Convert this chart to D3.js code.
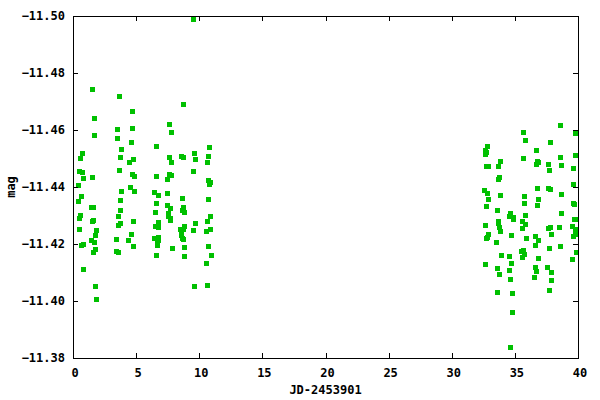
<!DOCTYPE html>
<meta charset="utf-8">
<style>
body { margin: 0; background: #fff; }
text { font-family: "DejaVu Sans Mono", monospace; font-weight: bold; font-size: 12px; fill: #000; }
</style>
<body>
<svg width="600" height="400"></svg>
<script src="https://cdn.jsdelivr.net/npm/d3@7/dist/d3.min.js"></script>
<script>
// JD offsets and magnitudes
var jd = [
  9.47, 1.53, 3.68, 4.71, 8.68, 1.69, 1.69, 3.52, 3.52, 4.71,
  7.64, 7.80, 4.58, 3.83, 6.61, 10.74, 0.74, 0.58, 3.75, 4.47,
  4.79, 7.64, 7.80, 8.52, 8.68, 9.55, 9.63, 10.66, 10.58, 0.50,
  0.74, 0.82, 1.53, 3.68, 4.71, 4.87, 6.61, 7.48, 7.64, 7.80,
  9.51, 10.66, 10.82, 10.74, 0.42, 0.66, 3.83, 4.55, 4.87, 6.45,
  6.77, 7.41, 8.60, 10.66, 0.42, 3.75, 1.45, 1.61, 0.58, 0.50,
  1.53, 1.61, 0.50, 0.66, 0.82, 1.45, 1.69, 1.77, 1.85, 1.77,
  1.61, 0.82, 1.77, 1.85, 3.75, 3.60, 3.60, 3.75, 3.44, 3.44,
  3.60, 4.39, 4.63, 4.79, 4.79, 6.61, 6.53, 6.77, 6.53, 6.77,
  7.48, 7.72, 7.56, 7.56, 7.72, 7.72, 6.45, 6.77, 6.69, 6.77,
  6.69, 6.61, 7.88, 8.75, 8.60, 8.83, 8.83, 8.75, 8.44, 8.52,
  8.60, 8.68, 8.52, 8.83, 8.83, 9.47, 9.63, 9.55, 10.82, 10.58,
  10.82, 10.50, 10.66, 10.90, 10.50, 10.58,
  38.60, 35.66, 39.79, 35.82, 37.80, 32.80, 32.64, 32.72, 32.64, 36.69,
  39.79, 35.66, 38.60, 33.83, 36.77, 36.85, 36.69, 37.64, 38.68, 32.72,
  32.88, 33.68, 39.63, 37.72, 33.75, 33.68, 39.63, 36.77, 37.64, 37.80,
  32.56, 32.80, 38.68, 33.83, 35.74, 32.88, 36.85, 35.74, 39.63, 39.71,
  32.72, 36.77, 33.60, 34.63, 34.55, 34.87, 34.87, 35.82, 38.68, 39.71,
  39.87, 33.68, 33.68, 35.58, 35.82, 32.64, 39.55, 33.75, 35.58, 37.64,
  37.80, 38.52, 39.79, 33.83, 39.79, 39.63, 32.88, 32.80, 32.72, 34.71,
  33.52, 35.90, 36.61, 36.85, 36.61, 37.88, 38.60, 37.72, 39.87, 39.55,
  35.50, 35.66, 35.74, 35.58, 33.91, 34.55, 34.71, 32.64, 33.60, 33.75,
  34.55, 34.63, 36.85, 36.61, 36.69, 36.53, 37.56, 37.88, 37.88, 37.72,
  33.60, 34.79, 34.79, 34.63
];
var mag = [
  -11.4988, -11.4743, -11.4718, -11.4666, -11.4690, -11.4641, -11.4581, -11.4602, -11.4571, -11.4606,
  -11.4620, -11.4592, -11.4557, -11.4532, -11.4543, -11.4539, -11.4518, -11.4501, -11.4504, -11.4487,
  -11.4497, -11.4504, -11.4487, -11.4508, -11.4504, -11.4518, -11.4497, -11.4508, -11.4487, -11.4455,
  -11.4452, -11.4431, -11.4434, -11.4460, -11.4445, -11.4438, -11.4438, -11.4427, -11.4445, -11.4441,
  -11.4455, -11.4424, -11.4416, -11.4409, -11.4406, -11.4367, -11.4385, -11.4399, -11.4385, -11.4381,
  -11.4371, -11.4378, -11.4360, -11.4357, -11.4351, -11.4353, -11.4329, -11.4329, -11.4301, -11.4290,
  -11.4280, -11.4283, -11.4252, -11.4195, -11.4199, -11.4213, -11.4206, -11.4231, -11.4248, -11.4181,
  -11.4171, -11.4111, -11.4052, -11.4006, -11.4318, -11.4297, -11.4266, -11.4273, -11.4217, -11.4174,
  -11.4171, -11.4213, -11.4234, -11.4280, -11.4192, -11.4343, -11.4311, -11.4276, -11.4262, -11.4259,
  -11.4336, -11.4325, -11.4308, -11.4297, -11.4290, -11.4283, -11.4220, -11.4224, -11.4206, -11.4214,
  -11.4195, -11.4160, -11.4185, -11.4329, -11.4318, -11.4311, -11.4262, -11.4252, -11.4252, -11.4238,
  -11.4220, -11.4217, -11.4231, -11.4188, -11.4157, -11.4248, -11.4273, -11.4052, -11.4297, -11.4280,
  -11.4252, -11.4245, -11.4192, -11.4160, -11.4132, -11.4055,
  -11.4616, -11.4592, -11.4588, -11.4564, -11.4557, -11.4543, -11.4529, -11.4522, -11.4515, -11.4529,
  -11.4511, -11.4501, -11.4504, -11.4490, -11.4490, -11.4487, -11.4480, -11.4480, -11.4476, -11.4473,
  -11.4473, -11.4473, -11.4466, -11.4459, -11.4434, -11.4427, -11.4409, -11.4395, -11.4395, -11.4392,
  -11.4388, -11.4378, -11.4374, -11.4371, -11.4367, -11.4357, -11.4357, -11.4343, -11.4343, -11.4339,
  -11.4332, -11.4336, -11.4318, -11.4308, -11.4297, -11.4294, -11.4287, -11.4301, -11.4308, -11.4287,
  -11.4287, -11.4280, -11.4273, -11.4280, -11.4269, -11.4266, -11.4262, -11.4259, -11.4255, -11.4255,
  -11.4259, -11.4259, -11.4252, -11.4245, -11.4234, -11.4227, -11.4234, -11.4224, -11.4220, -11.4231,
  -11.4206, -11.4220, -11.4227, -11.4213, -11.4195, -11.4234, -11.4192, -11.4185, -11.4171, -11.4146,
  -11.4174, -11.4178, -11.4164, -11.4153, -11.4160, -11.4157, -11.4132, -11.4129, -11.4115, -11.4094,
  -11.4108, -11.4076, -11.4150, -11.4118, -11.4104, -11.4083, -11.4118, -11.4101, -11.4073, -11.4038,
  -11.4031, -11.4027, -11.3960, -11.3838
];
var xTicks = [0, 5, 10, 15, 20, 25, 30, 35, 40];
var yTicks = [-11.50, -11.48, -11.46, -11.44, -11.42, -11.40, -11.38];

var svg = d3.select("svg");
var padL = 73, padR = 578, padT = 16, padB = 358;
var tickLen = 5, sz = 5;

var x = d3.scaleLinear().domain([0, 40]).range([padL, padR]);
var y = d3.scaleLinear().domain([-11.50, -11.38]).range([padT, padB]);

var pts = jd.map(function(d, i) { return { x: d, y: mag[i] }; });

//points
svg.append("g")
  .selectAll("rect")
  .data(pts)
  .enter().append("rect")
  .attr("x", function(d) { return Math.round(x(d.x)) - 2; })
  .attr("y", function(d) { return Math.round(y(d.y)) - 2; })
  .attr("width", sz)
  .attr("height", sz)
  .style("fill", "#00c000");

//ticks on all four sides, pointing in
var ax = svg.append("g").attr("stroke", "#000").attr("stroke-width", 1);
xTicks.forEach(function(t) {
  var px = Math.round(x(t)) + 0.5;
  ax.append("line").attr("x1", px).attr("x2", px).attr("y1", padB).attr("y2", padB - tickLen);
  ax.append("line").attr("x1", px).attr("x2", px).attr("y1", padT).attr("y2", padT + tickLen);
});
yTicks.forEach(function(t) {
  var py = Math.round(y(t)) + 0.5;
  ax.append("line").attr("x1", padL).attr("x2", padL + tickLen).attr("y1", py).attr("y2", py);
  ax.append("line").attr("x1", padR).attr("x2", padR - tickLen).attr("y1", py).attr("y2", py);
});

//frame
svg.append("rect")
  .attr("x", padL + 0.5).attr("y", padT + 0.5)
  .attr("width", padR - padL).attr("height", padB - padT)
  .style("fill", "none").style("stroke", "#000");

//tick labels
svg.append("g").selectAll("text")
  .data(xTicks).enter().append("text")
  .attr("x", function(d) { return x(d) + 2; })
  .attr("y", 377)
  .attr("text-anchor", "middle")
  .text(function(d) { return d; });

svg.append("g").selectAll("text")
  .data(yTicks).enter().append("text")
  .attr("x", 65)
  .attr("y", function(d) { return y(d) + 4; })
  .attr("text-anchor", "end")
  .text(function(d) { return d3.format(".2f")(d); });

//axis titles
svg.append("text")
  .attr("x", (padL + padR) / 2)
  .attr("y", 394)
  .attr("text-anchor", "middle")
  .text("JD-2453901");

svg.append("text")
  .attr("transform", "translate(15," + ((padT + padB) / 2) + ") rotate(-90)")
  .attr("text-anchor", "middle")
  .text("mag");
</script>
</body>
